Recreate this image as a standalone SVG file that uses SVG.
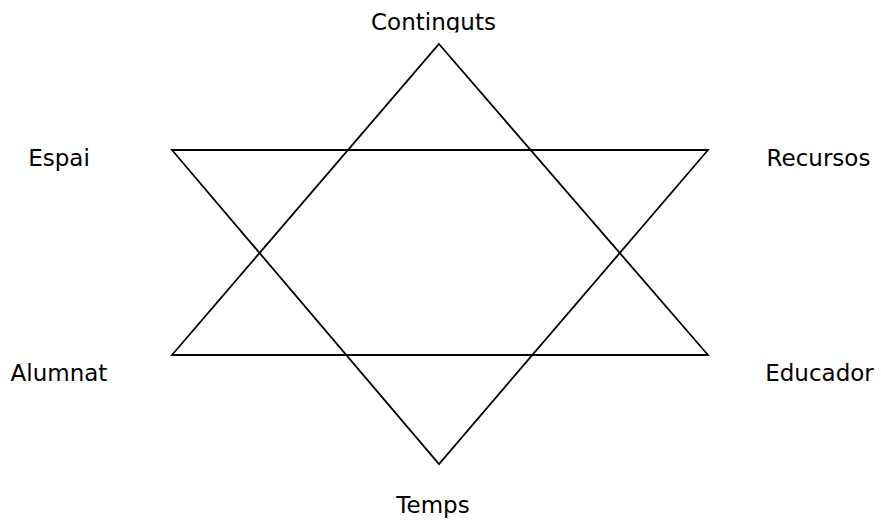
<svg xmlns="http://www.w3.org/2000/svg" width="881" height="521" viewBox="0 0 881 521">
<style>
.lbl{font-family:"DejaVu Sans","Verdana",sans-serif;font-size:23px;fill:#000;text-anchor:middle}
.edge{fill:none;stroke:#000;stroke-width:1.8;stroke-linejoin:miter}
</style>
<defs><clipPath id="topclip"><rect x="0" y="0" width="881" height="32.5"/></clipPath></defs>
<rect width="881" height="521" fill="#fff"/>
<g id="connectors">
<polygon class="edge" points="439,44 708,355 172,355"/>
<polygon class="edge" points="172,150 708,150 439,464"/>
</g>
<g id="node-continguts"><text class="lbl" x="433.5" y="30" clip-path="url(#topclip)">Continguts</text></g>
<g id="node-espai"><text class="lbl" x="59" y="166">Espai</text></g>
<g id="node-recursos"><text class="lbl" x="818.5" y="165.5">Recursos</text></g>
<g id="node-alumnat"><text class="lbl" x="59" y="381">Alumnat</text></g>
<g id="node-educador"><text class="lbl" x="819.5" y="381">Educador</text></g>
<g id="node-temps"><text class="lbl" x="433" y="513">Temps</text></g>
</svg>
